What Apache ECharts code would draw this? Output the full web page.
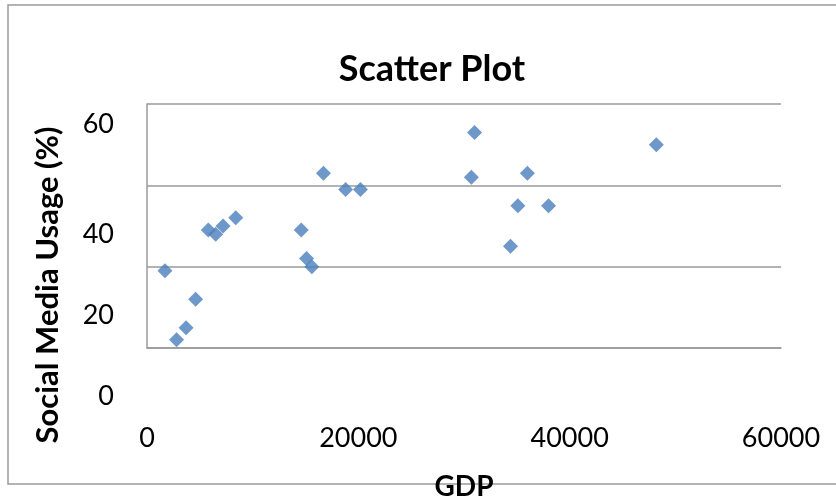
<!DOCTYPE html>
<html>
<head>
<meta charset="utf-8">
<script src="https://cdn.jsdelivr.net/npm/echarts@6/dist/echarts.min.js"></script>
<style>
  html, body { margin: 0; padding: 0; background: #fff; }
  #chart { width: 836px; height: 502px; }
</style>
</head>
<body>
<div id="chart"></div>
<script>
// data
const gdp = [1700, 2800, 3700, 4600, 5800, 6500, 7200, 8400, 14600, 15100, 15600,
  16700, 18800, 20200, 30700, 31000, 34400, 35100, 36000, 38000, 48200];
const usage = [19, 2, 5, 12, 29, 28, 30, 32, 29, 22, 20,
  43, 39, 39, 42, 53, 25, 35, 43, 35, 50];
const xTicks = [0, 20000, 40000, 60000];
const yTicks = [0, 20, 40, 60];

const points = gdp.map((g, i) => [g, usage[i]]);
const font = "Lato";
const grey = "#9a9a9a";

// y labels sit lower than their gridlines in the original
const yShift = { 0: 96, 20: 98, 40: 97, 60: 40 };

const chart = echarts.init(document.getElementById("chart"));
chart.setOption({
  animation: false,
  backgroundColor: "#fff",
  title: {
    text: "Scatter Plot",
    left: 427,
    top: 46,
    textAlign: "center",
    textStyle: { fontFamily: font, fontWeight: "bold", fontSize: 36, color: "#000" },
  },
  graphic: [
    {
      type: "rect",
      shape: { x: 8, y: 5, width: 840, height: 479 },
      style: { fill: null, stroke: grey, lineWidth: 1.5 },
      silent: true,
    },
  ],
  grid: { left: 147, right: 55, top: 104, bottom: 154 },
  xAxis: {
    type: "value",
    min: xTicks[0],
    max: xTicks[xTicks.length - 1],
    interval: 20000,
    name: "GDP",
    nameLocation: "middle",
    nameGap: 125,
    nameTextStyle: { fontFamily: font, fontWeight: "bold", fontSize: 28, color: "#000" },
    axisLine: { show: true, lineStyle: { color: grey, width: 1.5 } },
    axisTick: { show: false },
    splitLine: { show: false },
    axisLabel: {
      margin: 77,
      formatter: (v) => String(v),
      fontFamily: font, fontSize: 27, color: "#000",
    },
  },
  yAxis: {
    type: "value",
    min: yTicks[0],
    max: yTicks[yTicks.length - 1],
    interval: 20,
    name: "Social Media Usage (%)",
    nameLocation: "middle",
    nameGap: 84,
    nameTextStyle: {
      fontFamily: font, fontWeight: "bold", fontSize: 31, color: "#000",
      padding: [0, 118, 0, 0],
    },
    axisLine: { show: true, lineStyle: { color: grey, width: 1.5 } },
    axisTick: { show: false },
    splitLine: { show: true, lineStyle: { color: grey, width: 1.5 } },
    axisLabel: {
      margin: 33,
      formatter: (v) => "{s" + v + "|" + v + "}",
      rich: Object.fromEntries(yTicks.map((t) => ["s" + t, {
        fontFamily: font, fontSize: 27, color: "#000",
        padding: [yShift[t], 0, 0, 0],
      }])),
    },
  },
  series: [
    {
      type: "scatter",
      symbol: "diamond",
      symbolSize: 15,
      itemStyle: { color: "#4a7ebb" },
      data: points,
    },
  ],
});
</script>
</body>
</html>
